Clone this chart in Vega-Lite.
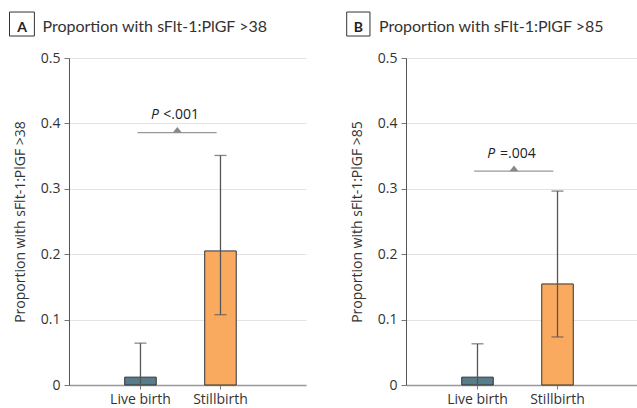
{
  "$schema": "https://vega.github.io/schema/vega-lite/v6.json",
  "padding": {"left": 9, "top": 11, "right": 0, "bottom": 0},
  "spacing": 40,
  "background": "white",
  "config": {
    "view": {"stroke": null},
    "font": "Open Sans",
    "axis": {"labelFont": "Open Sans", "labelFontSize": 14, "labelColor": "#333", "titleFont": "Open Sans", "titleFontSize": 14, "titleFontWeight": "normal", "titleColor": "#333"}
  },
  "datasets": {
    "bars": [
      {"panel": "A", "group": "Live birth", "p": 0.012, "lo": 0.0005, "hi": 0.064},
      {"panel": "A", "group": "Stillbirth", "p": 0.205, "lo": 0.1075, "hi": 0.351},
      {"panel": "B", "group": "Live birth", "p": 0.012, "lo": 0.0005, "hi": 0.063},
      {"panel": "B", "group": "Stillbirth", "p": 0.1545, "lo": 0.0735, "hi": 0.2965}
    ],
    "notes": [
      {"panel": "A", "stat": "P", "pv": "<.001", "y": 0.386},
      {"panel": "B", "stat": "P", "pv": "=.004", "y": 0.327}
    ],
    "heads": [
      {"panel": "A", "letter": "A", "title": "Proportion with sFlt-1:PlGF >38"},
      {"panel": "B", "letter": "B", "title": "Proportion with sFlt-1:PlGF >85"}
    ]
  },
  "hconcat": [
    {
      "width": 237,
      "height": 327,
      "layer": [
        {
          "data": {"name": "bars"},
          "transform": [{"filter": "datum.panel == 'A'"}],
          "layer": [
            {
              "mark": {"type": "bar", "stroke": "#333", "strokeWidth": 1},
              "encoding": {
                "x": {"field": "group", "type": "nominal", "sort": ["Live birth", "Stillbirth"],
                  "scale": {"paddingInner": 0.606, "paddingOuter": 0.784, "align": 0.444},
                  "axis": {"title": null, "labelAngle": 0, "domainColor": "#999", "domainWidth": 1.5, "tickColor": "#777", "tickSize": 4, "labelPadding": 3}},
                "y": {"field": "p", "type": "quantitative", "title": "Proportion with sFlt-1:PlGF >38",
                  "scale": {"domain": [0, 0.5], "nice": false},
                  "axis": {"values": [0, 0.1, 0.2, 0.3, 0.4, 0.5], "format": ".1~f", "domainColor": "#555", "domainWidth": 1, "tickColor": "#777", "tickSize": 5, "gridColor": "#e3e3e3", "labelPadding": 4, "titlePadding": 13}},
                "color": {"field": "group", "type": "nominal", "scale": {"domain": ["Live birth", "Stillbirth"], "range": ["#577d8b", "#f9aa5e"]}, "legend": null}
              }
            },
            {
              "mark": {"type": "errorbar", "color": "#555", "thickness": 1.3, "ticks": {"size": 12, "color": "#555", "thickness": 1.3}},
              "encoding": {
                "x": {"field": "group", "type": "nominal", "sort": ["Live birth", "Stillbirth"]},
                "y": {"field": "lo", "type": "quantitative", "title": "Proportion with sFlt-1:PlGF >38", "scale": {"domain": [0, 0.5], "nice": false}},
                "y2": {"field": "hi"}
              }
            }
          ]
        },
        {
          "layer": [
            {
              "data": {"name": "heads"},
              "transform": [{"filter": "datum.panel == 'A'"}],
              "mark": {"type": "rect", "fill": "white", "stroke": "#333", "strokeWidth": 1},
              "encoding": {
                "x": {"datum": -0.251, "type": "quantitative", "scale": {"domain": [0, 1]}, "axis": null},
                "x2": {"datum": -0.146},
                "y": {"datum": 0.5703, "type": "quantitative", "scale": {"domain": [0, 0.5], "nice": false}, "title": "Proportion with sFlt-1:PlGF >38"},
                "y2": {"datum": 0.5336}
              }
            },
            {
              "data": {"name": "heads"},
              "transform": [{"filter": "datum.panel == 'A'"}],
              "mark": {"type": "text", "font": "Lato", "fontSize": 14, "fontWeight": "bold", "color": "#222", "align": "center", "baseline": "alphabetic"},
              "encoding": {
                "x": {"datum": -0.198, "type": "quantitative", "scale": {"domain": [0, 1]}, "axis": null},
                "y": {"datum": 0.5405, "type": "quantitative", "scale": {"domain": [0, 0.5], "nice": false}, "title": "Proportion with sFlt-1:PlGF >38"},
                "text": {"field": "letter"}
              }
            },
            {
              "data": {"name": "heads"},
              "transform": [{"filter": "datum.panel == 'A'"}],
              "mark": {"type": "text", "font": "Lato", "fontSize": 16, "color": "#333", "align": "left", "baseline": "alphabetic"},
              "encoding": {
                "x": {"datum": -0.112, "type": "quantitative", "scale": {"domain": [0, 1]}, "axis": null},
                "y": {"datum": 0.5405, "type": "quantitative", "scale": {"domain": [0, 0.5], "nice": false}, "title": "Proportion with sFlt-1:PlGF >38"},
                "text": {"field": "title"}
              }
            },
            {
              "data": {"name": "notes"},
              "transform": [{"filter": "datum.panel == 'A'"}],
              "mark": {"type": "rule", "color": "#999", "strokeWidth": 1.3},
              "encoding": {
                "x": {"datum": 0.289, "type": "quantitative", "scale": {"domain": [0, 1]}, "axis": null},
                "x2": {"datum": 0.623},
                "y": {"field": "y", "type": "quantitative", "scale": {"domain": [0, 0.5], "nice": false}, "title": "Proportion with sFlt-1:PlGF >38"}
              }
            },
            {
              "data": {"name": "notes"},
              "transform": [{"filter": "datum.panel == 'A'"}],
              "mark": {"type": "point", "shape": "M-1,0L1,0L0,-1.25Z", "size": 81, "filled": true, "color": "#888", "opacity": 1, "strokeWidth": 0},
              "encoding": {
                "x": {"datum": 0.457, "type": "quantitative", "scale": {"domain": [0, 1]}, "axis": null},
                "y": {"field": "y", "type": "quantitative", "scale": {"domain": [0, 0.5], "nice": false}, "title": "Proportion with sFlt-1:PlGF >38"}
              }
            },
            {
              "data": {"name": "notes"},
              "transform": [{"filter": "datum.panel == 'A'"}],
              "mark": {"type": "text", "fontSize": 14, "fontStyle": "italic", "color": "#222", "align": "right", "baseline": "alphabetic", "dy": -13.4},
              "encoding": {
                "x": {"datum": 0.379, "type": "quantitative", "scale": {"domain": [0, 1]}, "axis": null},
                "y": {"field": "y", "type": "quantitative", "scale": {"domain": [0, 0.5], "nice": false}, "title": "Proportion with sFlt-1:PlGF >38"},
                "text": {"field": "stat"}
              }
            },
            {
              "data": {"name": "notes"},
              "transform": [{"filter": "datum.panel == 'A'"}],
              "mark": {"type": "text", "fontSize": 14, "color": "#222", "align": "left", "baseline": "alphabetic", "dy": -13.4},
              "encoding": {
                "x": {"datum": 0.398, "type": "quantitative", "scale": {"domain": [0, 1]}, "axis": null},
                "y": {"field": "y", "type": "quantitative", "scale": {"domain": [0, 0.5], "nice": false}, "title": "Proportion with sFlt-1:PlGF >38"},
                "text": {"field": "pv"}
              }
            }
          ]
        }
      ],
      "resolve": {"scale": {"x": "independent"}}
    },
    {
      "width": 231,
      "height": 327,
      "layer": [
        {
          "data": {"name": "bars"},
          "transform": [{"filter": "datum.panel == 'B'"}],
          "layer": [
            {
              "mark": {"type": "bar", "stroke": "#333", "strokeWidth": 1},
              "encoding": {
                "x": {"field": "group", "type": "nominal", "sort": ["Live birth", "Stillbirth"],
                  "scale": {"paddingInner": 0.606, "paddingOuter": 0.7465, "align": 0.4665},
                  "axis": {"title": null, "labelAngle": 0, "domainColor": "#999", "domainWidth": 1.5, "tickColor": "#777", "tickSize": 4, "labelPadding": 3}},
                "y": {"field": "p", "type": "quantitative", "title": "Proportion with sFlt-1:PlGF >85",
                  "scale": {"domain": [0, 0.5], "nice": false},
                  "axis": {"values": [0, 0.1, 0.2, 0.3, 0.4, 0.5], "format": ".1~f", "domainColor": "#555", "domainWidth": 1, "tickColor": "#777", "tickSize": 5, "gridColor": "#e3e3e3", "labelPadding": 4, "titlePadding": 13}},
                "color": {"field": "group", "type": "nominal", "scale": {"domain": ["Live birth", "Stillbirth"], "range": ["#577d8b", "#f9aa5e"]}, "legend": null}
              }
            },
            {
              "mark": {"type": "errorbar", "color": "#555", "thickness": 1.3, "ticks": {"size": 12, "color": "#555", "thickness": 1.3}},
              "encoding": {
                "x": {"field": "group", "type": "nominal", "sort": ["Live birth", "Stillbirth"]},
                "y": {"field": "lo", "type": "quantitative", "title": "Proportion with sFlt-1:PlGF >85", "scale": {"domain": [0, 0.5], "nice": false}},
                "y2": {"field": "hi"}
              }
            }
          ]
        },
        {
          "layer": [
            {
              "data": {"name": "heads"},
              "transform": [{"filter": "datum.panel == 'B'"}],
              "mark": {"type": "rect", "fill": "white", "stroke": "#333", "strokeWidth": 1},
              "encoding": {
                "x": {"datum": -0.2567, "type": "quantitative", "scale": {"domain": [0, 1]}, "axis": null},
                "x2": {"datum": -0.156},
                "y": {"datum": 0.5703, "type": "quantitative", "scale": {"domain": [0, 0.5], "nice": false}, "title": "Proportion with sFlt-1:PlGF >85"},
                "y2": {"datum": 0.5336}
              }
            },
            {
              "data": {"name": "heads"},
              "transform": [{"filter": "datum.panel == 'B'"}],
              "mark": {"type": "text", "font": "Lato", "fontSize": 14, "fontWeight": "bold", "color": "#222", "align": "center", "baseline": "alphabetic"},
              "encoding": {
                "x": {"datum": -0.2065, "type": "quantitative", "scale": {"domain": [0, 1]}, "axis": null},
                "y": {"datum": 0.5405, "type": "quantitative", "scale": {"domain": [0, 0.5], "nice": false}, "title": "Proportion with sFlt-1:PlGF >85"},
                "text": {"field": "letter"}
              }
            },
            {
              "data": {"name": "heads"},
              "transform": [{"filter": "datum.panel == 'B'"}],
              "mark": {"type": "text", "font": "Lato", "fontSize": 16, "color": "#333", "align": "left", "baseline": "alphabetic"},
              "encoding": {
                "x": {"datum": -0.1169, "type": "quantitative", "scale": {"domain": [0, 1]}, "axis": null},
                "y": {"datum": 0.5405, "type": "quantitative", "scale": {"domain": [0, 0.5], "nice": false}, "title": "Proportion with sFlt-1:PlGF >85"},
                "text": {"field": "title"}
              }
            },
            {
              "data": {"name": "notes"},
              "transform": [{"filter": "datum.panel == 'B'"}],
              "mark": {"type": "rule", "color": "#999", "strokeWidth": 1.3},
              "encoding": {
                "x": {"datum": 0.295, "type": "quantitative", "scale": {"domain": [0, 1]}, "axis": null},
                "x2": {"datum": 0.638},
                "y": {"field": "y", "type": "quantitative", "scale": {"domain": [0, 0.5], "nice": false}, "title": "Proportion with sFlt-1:PlGF >85"}
              }
            },
            {
              "data": {"name": "notes"},
              "transform": [{"filter": "datum.panel == 'B'"}],
              "mark": {"type": "point", "shape": "M-1,0L1,0L0,-1.25Z", "size": 81, "filled": true, "color": "#888", "opacity": 1, "strokeWidth": 0},
              "encoding": {
                "x": {"datum": 0.4675, "type": "quantitative", "scale": {"domain": [0, 1]}, "axis": null},
                "y": {"field": "y", "type": "quantitative", "scale": {"domain": [0, 0.5], "nice": false}, "title": "Proportion with sFlt-1:PlGF >85"}
              }
            },
            {
              "data": {"name": "notes"},
              "transform": [{"filter": "datum.panel == 'B'"}],
              "mark": {"type": "text", "fontSize": 14, "fontStyle": "italic", "color": "#222", "align": "right", "baseline": "alphabetic", "dy": -13.4},
              "encoding": {
                "x": {"datum": 0.386, "type": "quantitative", "scale": {"domain": [0, 1]}, "axis": null},
                "y": {"field": "y", "type": "quantitative", "scale": {"domain": [0, 0.5], "nice": false}, "title": "Proportion with sFlt-1:PlGF >85"},
                "text": {"field": "stat"}
              }
            },
            {
              "data": {"name": "notes"},
              "transform": [{"filter": "datum.panel == 'B'"}],
              "mark": {"type": "text", "fontSize": 14, "color": "#222", "align": "left", "baseline": "alphabetic", "dy": -13.4},
              "encoding": {
                "x": {"datum": 0.407, "type": "quantitative", "scale": {"domain": [0, 1]}, "axis": null},
                "y": {"field": "y", "type": "quantitative", "scale": {"domain": [0, 0.5], "nice": false}, "title": "Proportion with sFlt-1:PlGF >85"},
                "text": {"field": "pv"}
              }
            }
          ]
        }
      ],
      "resolve": {"scale": {"x": "independent"}}
    }
  ]
}
